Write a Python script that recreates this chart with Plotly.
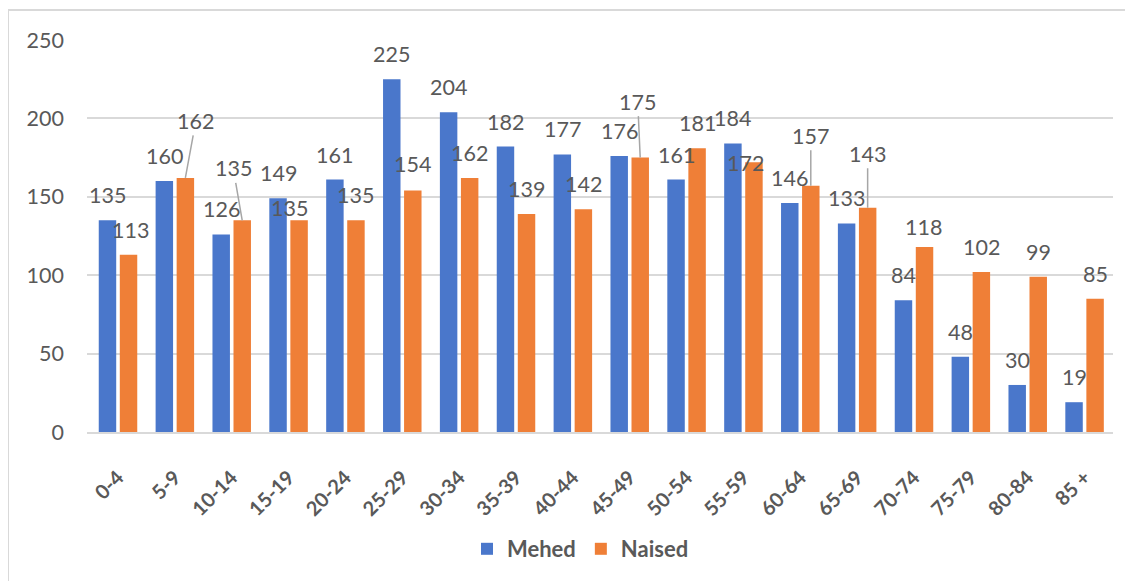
import plotly.graph_objects as go

categories = ["0-4", "5-9", "10-14", "15-19", "20-24", "25-29", "30-34", "35-39", "40-44",
              "45-49", "50-54", "55-59", "60-64", "65-69", "70-74", "75-79", "80-84", "85 +"]
mehed = [135, 160, 126, 149, 161, 225, 204, 182, 177, 176, 161, 184, 146, 133, 84, 48, 30, 19]
naised = [113, 162, 135, 135, 135, 154, 162, 139, 142, 175, 181, 172, 157, 143, 118, 102, 99, 85]
y_ticks = [0, 50, 100, 150, 200, 250]

BLUE = "#4a77cb"
ORANGE = "#ef7f37"
TEXT = "#595959"
GRID = "#d9d9d9"
FONT = "Lato"

# label placement styling (pixel offsets from bar top, per index); default: centered, 25px above
naised_label_style = {
    0: (2, 25, False), 1: (10.5, 57, True), 2: (-9, 52, True), 3: (-10, 12, False),
    5: (0, 27, False), 9: (-2.5, 56, True), 11: (-8, -1, False), 12: (0, 50, True),
    13: (0, 54, True), 14: (-1, 20, False),
}
GROUP_SHIFT = 10.5

fig = go.Figure()
fig.add_trace(go.Bar(name="Mehed", x=categories, y=mehed, marker=dict(color=BLUE, line=dict(width=0))))
fig.add_trace(go.Bar(name="Naised", x=categories, y=naised, marker=dict(color=ORANGE, line=dict(width=0))))

annotations = []
for i, (c, v) in enumerate(zip(categories, mehed)):
    annotations.append(dict(x=c, y=v, text=str(v), showarrow=False, xanchor="center", yanchor="middle",
                            xshift=-GROUP_SHIFT, yshift=25, font=dict(family=FONT, size=21.5, color=TEXT)))
for i, (c, v) in enumerate(zip(categories, naised)):
    dx, dy, arrow = naised_label_style.get(i, (0, 25, False))
    if arrow:
        annotations.append(dict(x=c, y=v, text=str(v), showarrow=True, arrowhead=0, arrowwidth=1.5,
                                arrowcolor="#a6a6a6", standoff=0, startstandoff=0, ax=dx, ay=-dy,
                                xshift=GROUP_SHIFT, font=dict(family=FONT, size=21.5, color=TEXT)))
    else:
        annotations.append(dict(x=c, y=v, text=str(v), showarrow=False, xanchor="center", yanchor="middle",
                                xshift=GROUP_SHIFT + dx, yshift=dy, font=dict(family=FONT, size=21.5, color=TEXT)))

# page has an 8px body margin; plot area targeted at x 87..1113, y 40..433 on screen
OFF = 8
W, H = 1133 - OFF, 581 - OFF
L, R, T, B = 87 - OFF, 20, 40 - OFF, 148
pw, ph = W - L - R, H - T - B
plot_left, plot_bottom = 87, 433

fig.update_layout(
    width=W, height=H,
    margin=dict(l=L, r=R, t=T, b=B, pad=0),
    paper_bgcolor="white", plot_bgcolor="white",
    barmode="group", bargap=0.26, bargroupgap=0.17,
    font=dict(family=FONT, color=TEXT),
    annotations=annotations,
    legend=dict(orientation="h", x=(580.5 - plot_left) / pw, xanchor="center",
                y=(plot_bottom - 549) / ph, yanchor="middle",
                font=dict(family=FONT, size=22, color=TEXT, weight="bold"), traceorder="normal",
                itemwidth=30, bgcolor="rgba(0,0,0,0)"),
    shapes=[dict(type="rect", xref="paper", yref="paper", x0=(8 - plot_left) / pw, x1=1.3, y0=-1.0,
                 y1=(plot_bottom - 10) / ph, line=dict(color=GRID, width=2),
                 fillcolor="rgba(0,0,0,0)", layer="below")],
)
fig.update_xaxes(type="category", showgrid=False, showline=True, linecolor=GRID, linewidth=2,
                 tickangle=-45, ticks="", tickfont=dict(family=FONT, size=20, color=TEXT, weight="bold"),
                 ticklabelstandoff=24)
fig.update_yaxes(range=[0, 250], tickvals=y_ticks, showgrid=True, gridcolor=GRID, gridwidth=1.5,
                 zeroline=False, showline=False, ticks="", ticklabelstandoff=22,
                 tickfont=dict(family=FONT, size=21.5, color=TEXT))

fig.write_html("out.html")
